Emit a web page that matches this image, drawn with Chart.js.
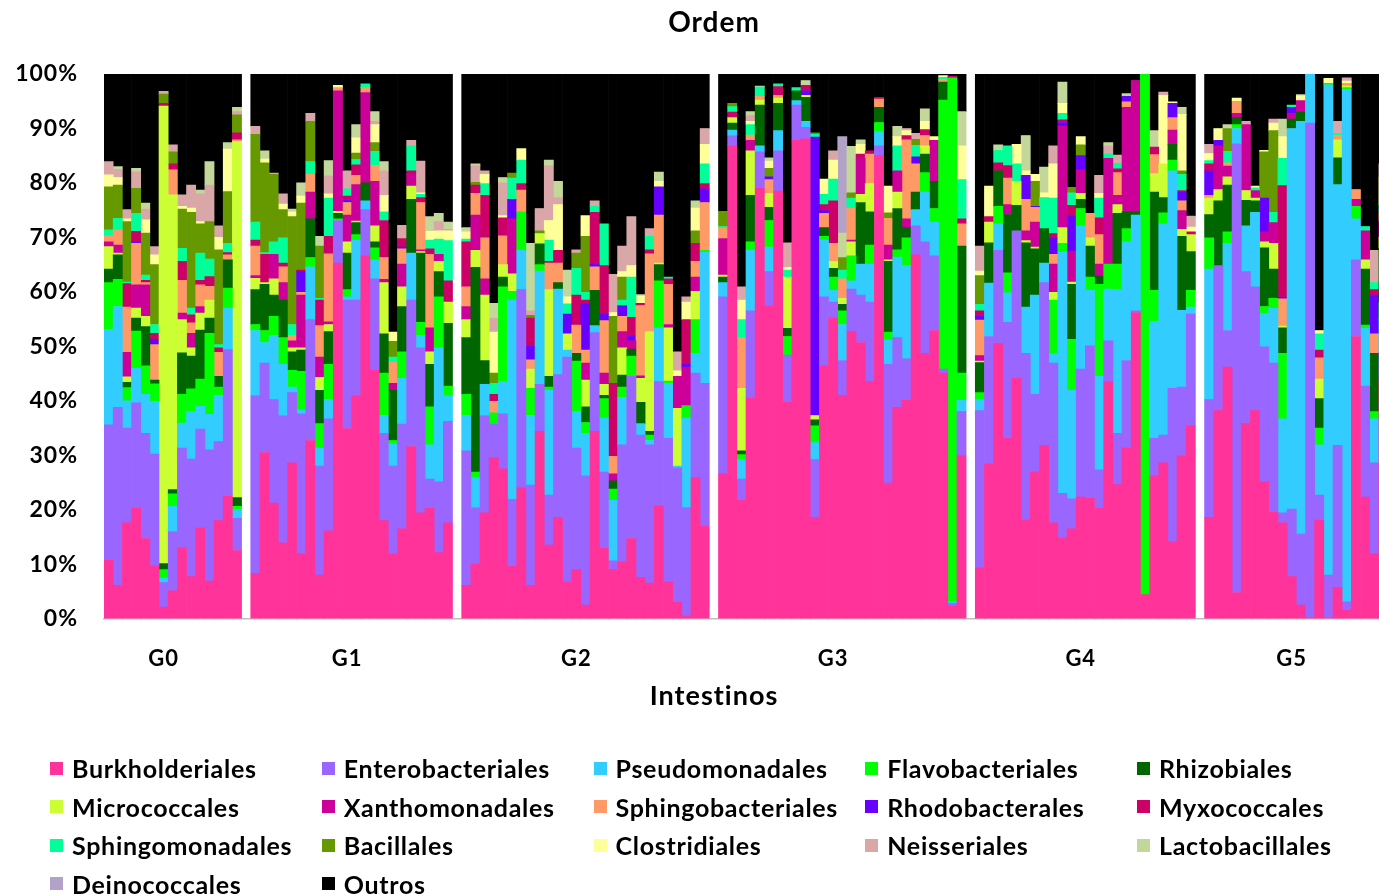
<!DOCTYPE html>
<html>
<head>
<meta charset="utf-8">
<script src="https://cdn.jsdelivr.net/npm/chart.js@4.4.1/dist/chart.umd.min.js"></script>
<style>
  html, body { margin: 0; padding: 0; background: #fff; overflow: hidden; width: 1379px; height: 896px; }
  #wrap { position: absolute; left: 0; top: 0; width: 1428px; height: 716px; }
  #legend { position: absolute; left: 0; top: 0; width: 1379px; height: 896px; pointer-events: none;
            font-family: Lato, 'Open Sans', sans-serif; font-weight: 700; font-size: 25px; color: #000; letter-spacing: 0.7px; }
  .item { position: absolute; display: flex; align-items: center; height: 38px; white-space: nowrap; }
  .sw { width: 13px; height: 13px; margin-right: 9px; flex: none; }
</style>
</head>
<body>
<div id="wrap"><canvas id="chart" width="1428" height="716"></canvas></div>
<div id="legend"></div>
<script>
// Sample groups along the x axis (one empty slot separates consecutive groups)
const groupNames = ['G0', 'G1', 'G2', 'G3', 'G4', 'G5'];
const groupSizes = [15, 22, 27, 27, 24, 20];

// Y axis ticks (percent of reads)
const yTickValues = [0, 10, 20, 30, 40, 50, 60, 70, 80, 90, 100];

const seriesNames = [
  'Burkholderiales', 'Enterobacteriales', 'Pseudomonadales', 'Flavobacteriales', 'Rhizobiales',
  'Micrococcales', 'Xanthomonadales', 'Sphingobacteriales', 'Rhodobacterales', 'Myxococcales',
  'Sphingomonadales', 'Bacillales', 'Clostridiales', 'Neisseriales', 'Lactobacillales',
  'Deinococcales', 'Outros'
];
const seriesColors = [
  '#FF3399', '#9966FF', '#33CCFF', '#00FF00', '#006600',
  '#CCFF33', '#CC0099', '#FF9966', '#6600FF', '#CC0066',
  '#00FF99', '#669900', '#FFFF99', '#D9A7A7', '#C4D79B',
  '#B3A2C7', '#000000'
];

// Relative abundance (%) per sample, one line per group G0..G5
const burkholderiales = [
  10.7,6.1,17.6,20.4,14.7,9.7,2.1,5.1,13.0,7.7,16.6,6.9,18.0,22.6,12.5,
  8.3,30.5,21.2,13.9,28.6,11.9,32.7,8.0,16.1,65.3,34.9,40.9,66.6,45.6,18.0,11.9,16.5,31.6,19.4,20.4,12.1,17.6,
  6.1,10.0,19.4,29.5,27.5,9.6,24.0,6.1,34.4,13.5,18.6,6.7,9.0,2.5,34.4,12.9,9.0,10.4,14.7,7.6,6.5,20.7,6.7,3.0,0.5,25.9,17.1,
  26.6,86.8,21.7,40.6,79.0,57.5,78.5,39.7,87.8,88.1,18.6,46.4,55.2,41.0,52.7,50.7,43.5,85.0,24.9,38.8,40.1,66.8,48.7,52.9,45.1,2.3,29.9,
  9.3,28.4,50.5,33.1,44.1,18.1,26.9,31.8,17.6,14.8,16.5,22.3,22.1,20.4,43.5,24.6,31.3,56.2,4.4,26.2,28.6,14.1,29.9,35.4,
  18.6,38.2,46.2,4.8,35.8,38.2,25.1,19.5,17.6,7.7,2.5,0.2,18.2,0.2,5.7,1.5,51.8,22.3,11.9,44.0
];
const enterobacteriales = [
  24.9,32.7,17.4,19.2,19.3,20.5,4.5,10.9,18.3,21.6,18.2,24.1,14.5,26.8,5.9,
  32.6,16.4,19.0,23.4,12.9,25.7,22.2,20.0,20.6,7.8,23.6,17.6,8.5,16.8,16.0,16.1,19.2,26.9,30.3,5.2,13.0,18.6,
  24.7,10.4,17.9,6.2,10.1,12.3,36.4,18.4,8.6,9.2,26.2,41.3,22.3,23.7,18.1,14.0,1.6,21.5,29.8,26.1,25.4,22.8,26.4,24.7,19.9,19.2,26.1,
  32.5,1.9,3.9,15.9,6.7,6.2,7.4,8.7,6.5,2.1,10.6,12.7,2.9,6.4,7.8,8.7,14.6,1.8,21.8,12.8,7.6,5.3,20.5,13.7,0.7,0.5,8.1,
  28.9,23.4,17.1,21.3,27.1,30.6,14.3,29.9,29.3,8.2,5.5,23.5,28.0,6.9,7.5,9.4,16.1,0.3,0,6.9,5.1,28.2,12.6,20.5,
  21.6,26.6,6.7,82.4,27.9,22.7,24.8,27.4,1.8,12.4,13.0,90.8,4.5,7.8,26.1,1.6,14.1,20.4,16.7,5.0
];
const pseudomonadales = [
  17.5,18.5,5.0,6.4,7.2,9.7,0.9,4.6,4.6,8.7,4.2,6.5,8.5,7.6,1.6,
  12.0,3.8,11.8,9.4,1.0,0.7,9.7,3.3,3.5,0,0.6,11.0,1.6,3.5,3.3,4.1,8.4,8.6,2.3,6.3,24.6,4.7,
  6.5,5.5,5.7,0,5.9,36.6,7.2,12.8,20.8,19.2,15.7,1.3,6.7,7.8,1.3,9.9,11.1,8.7,0,2.0,0.8,9.9,10.1,0.3,16.4,3.6,24.1,
  2.6,1.0,3.6,11.1,1.1,4.5,3.7,0,0.8,1.1,3.1,10.4,2.2,6.6,1.5,5.7,7.0,2.6,4.5,14.8,17.1,3.0,9.1,6.2,0,0.3,2.1,
  2.0,9.8,4.9,5.4,0,8.5,18.2,3.6,1.7,44.3,19.9,26.3,10.2,17.2,9.5,26.4,21.8,17.6,0,21.5,38.8,39.9,14.1,1.3,
  24.0,0,16.0,2.8,8.4,13.7,6.1,10.1,17.3,69.9,75.8,9.0,9.2,90.0,47.9,94.1,7.5,10.6,8.1,6.0
];
const flavobacteriales = [
  8.6,5.0,2.4,6.8,5.2,3.2,1.5,2.3,5.3,4.2,5.0,14.9,1.5,3.7,0.6,
  1.1,2.2,3.5,4.9,3.1,7.1,1.7,4.5,6.5,0.3,1.3,1.0,0,2.2,7.8,0.6,4.9,0,2.4,7.0,9.4,1.8,
  3.9,1.0,0,2.1,17.4,1.6,7.1,5.0,1.2,0.6,0,0,9.3,2.0,0,3.6,2.1,1.9,3.7,0.1,1.0,8.6,0.4,0,2.3,6.2,0.3,
  0,0,0.9,1.6,0,4.9,0,3.4,0,0,3.1,0.7,2.4,2.5,4.6,0,3.5,1.7,1.4,1.3,5.1,0,3.6,2.5,49.4,96.2,5.0,
  1.3,0,3.2,3.7,0,0,0,0,9.9,1.6,9.4,3.2,2.4,16.9,4.6,4.7,2.4,0,95.6,5.7,2.0,2.0,0,3.1,
  5.7,0,2.1,0.7,0,0,1.3,1.8,12.0,0,0,0,3.1,0.3,0,0.3,2.3,0.6,1.3,3.0
];
const rhizobiales = [
  2.5,4.5,1.0,2.4,7.2,0.7,1.1,0.8,7.6,6.0,9.0,2.8,2.0,5.2,1.6,
  6.4,8.5,3.9,6.9,3.4,3.9,7.1,6.1,6.0,1.0,6.7,2.2,3.3,1.1,7.2,9.2,8.3,9.9,12.7,7.8,4.6,11.5,
  10.4,37.6,4.4,0,1.8,0,0,0,3.8,2.0,1.2,0,1.4,2.9,6.5,0.6,1.5,2.2,1.3,3.9,0.7,3.0,0,0,0,0,0,
  1.0,1.3,0.7,8.5,7.5,2.4,5.0,1.5,1.8,4.4,1.1,1.6,1.6,1.2,0,11.3,6.1,2.8,13.0,7.6,1.9,3.2,3.4,5.0,3.3,0,23.3,
  5.5,7.4,6.5,10.7,4.7,11.8,8.5,6.3,0,0,10.1,1.7,5.7,1.6,0,9.3,3.1,0.6,0,18.0,2.8,2.9,13.6,7.1,
  4.3,11.9,8.6,1.3,4.7,2.1,10.8,5.4,4.7,1.7,1.7,0,5.4,0,4.9,0,0,10.3,10.7,10.0
];
const micrococcales = [
  4.1,0.3,1.0,1.8,1.9,0,84.0,54.1,6.1,1.5,3.1,3.3,0,0,65.4,
  2.1,0.3,3.0,0,0.7,0.4,0,2.4,1.3,0.4,2.1,0.3,0,2.9,9.4,0,3.6,2.4,0.3,2.3,1.9,3.9,
  3.3,3.1,12.0,0,2.3,3.2,0,3.5,1.9,15.9,0,3.0,0,4.9,0,2.0,0,5.0,0,4.4,18.3,0.3,9.8,10.6,0,5.2,0,
  0.4,1.0,11.5,8.2,0.9,2.6,1.0,9.4,0,0.4,0.8,0,1.3,1.1,2.6,1.5,5.2,0,0.3,3.0,0,0,1.5,0,0,0,0,
  0.3,3.8,0,0,4.4,0.4,0.3,0,1.4,2.9,0.4,1.1,1.5,0,0,1.6,0,0,0,3.4,6.2,0,1.3,3.1,
  3.0,2.1,1.5,0,1.8,0.5,1.1,4.7,0.3,0,0,0,3.6,0,3.3,0.3,0,1.7,0,2.0
];
const xanthomonadales = [
  0.9,1.5,4.5,4.3,5.8,0,0,0,1.2,2.7,1.2,0,0,0,0,
  0.5,0,4.5,3.2,1.3,9.7,4.9,3.7,0.5,22.1,4.9,6.7,16.6,8.2,0.6,1.3,4.2,2.2,0.3,4.4,1.3,0,
  2.4,6.5,3.0,0,0,10.1,0,0,0,0,0,0,0,3.1,0,2.1,1.3,3.0,1.5,0.5,0,0,0.6,5.9,7.1,2.6,0,
  6.7,0,0,1.9,0,0,0,0,0,0,0,0,0,0,0.3,6.6,0,0,2.7,3.9,1.6,0,0,7.5,0,0,0,
  1.0,0,0,1.8,0,1.8,4.6,0,5.2,18.6,5.7,4.3,0,2.1,19.4,1.7,19.2,24.1,0,0,0,2.6,3.4,0,
  0,8.0,2.0,0.8,12.1,1.4,1.8,3.8,0,1.1,2.1,0,0,0,0,0,1.3,5.3,0,3.0
];
const sphingobacteriales = [
  1.1,2.8,8.3,7.6,0.4,6.5,0,4.6,6.0,1.9,4.0,2.5,4.4,0.9,0.3,
  5.4,0,0,2.9,1.0,0.5,3.3,5.8,12.5,0.6,2.3,1.7,0.9,2.9,4.0,3.9,2.8,0,8.7,13.5,0,0,
  3.6,4.0,7.5,2.1,5.3,0,4.0,1.7,0,4.9,3.6,0,5.2,2.4,4.3,9.6,3.2,2.8,0,12.9,14.3,8.8,7.4,0,0,2.9,8.8,
  1.9,0,9.3,1.0,0.7,2.5,0.5,0,0,0,0,2.6,3.3,3.6,5.9,0,5.4,1.5,4.9,0,14.5,5.2,1.9,0,0.5,0,4.1,
  6.5,0,0,4.9,0,5.8,2.7,0,1.8,0,0,0,4.5,5.4,0,4.2,1.0,0,0,3.5,0,2.3,1.8,0,
  0.5,0,0.6,2.2,0,0,0,0,5.0,0,0,0,3.9,0,0.8,0.5,1.8,0,3.6,2.0
];
const rhodobacterales = [
  0,0,0,0.3,0,1.0,0,0,0,0,0,0,0,0,0,
  0,0,0,0,0,3.8,0,0,0,0,0.4,0,0,0,0,0,0.3,0,0,0,0,0,
  0,0,0,0,0,3.6,0,2.5,0,0,0,3.6,0,8.5,0.5,1.2,0,2.0,1.0,0,0,5.2,0,0,0.5,0,2.5,
  0,0,0,0,0,0.5,0,0,0,0.8,51.1,0.5,0,0,0,0,0,0,0,0,0,1.3,0,0,0,0,0,
  0.7,0,0,0,0,4.4,0.2,0,3.0,0.7,6.4,2.6,0,0,0,0,1.0,0,0,0,0,2.6,1.6,0,
  4.5,1.0,0,0,0,0,6.2,0,0.3,1.1,0,0,0,0,0,0,0,0,7.1,0
];
const myxococcales = [
  0,0,4.3,1.9,0.4,1.1,0.5,1.1,3.5,1.5,0.8,1.8,0.8,0.4,1.3,
  1.1,5.2,0,0.7,0,0.3,0,4.7,3.2,0,0.8,1.9,0,0,6.8,0,1.6,0.6,0.9,1.0,0,3.9,
  8.3,1.5,7.8,1.3,3.3,0,1.2,5.2,0,0.3,2.3,0,5.5,0.7,9.5,8.9,13.4,0,3.3,0.4,0.7,0,1.0,0,8.2,3.3,1.0,
  0,1.0,0,0,0,0,1.6,0,0,1.0,0,1.1,7.8,0,0,0.8,0.6,0.3,0,0,0.8,0,1.1,0,0,0.3,0.9,
  1.0,1.0,1.5,2.3,0,0,0,0,0.8,0.5,2.0,0,0,3.1,0,0.7,0,0,0,1.4,0,0,0.3,0.5,
  1.3,0,0,0,0,0,0,0,20.5,0,0,0,1.4,0,0,0,0,0,1.0,0
];
const sphingomonadales = [
  1.1,2.1,0.3,3.3,1.0,1.6,0,0,2.4,1.2,5.0,3.2,0.6,1.7,0,
  3.3,0.3,2.3,4.6,2.0,0,2.3,0.3,7.0,0,1.3,1.0,0.7,2.6,1.6,0.9,0,4.6,0.6,1.6,2.8,7.4,
  0.5,0,2.2,2.0,0,3.9,4.3,0,0,3.9,0,1.9,4.9,1.4,1.1,7.7,0,1.0,7.4,0,2.5,0,0.3,0,0,0,3.6,
  0.3,1.0,3.3,1.9,1.7,0,0.5,1.3,0.6,0,0.5,1.9,4.0,1.6,1.8,0,0,0,0,4.6,0,2.1,0,0,0.4,0,7.2,
  1.2,0,2.3,3.6,3.2,0,0,5.7,6.5,1.2,2.3,0,0,3.6,0.9,1.0,0,0,0,0,0,0,3.0,0,
  0.6,0,2.1,0,0,0.5,0,1.9,5.0,0.4,0,0,3.0,0,0.3,0,0,0.8,1.3,1.0
];
const bacillales = [
  7.9,6.1,11.1,4.6,7.7,11.0,1.7,2.2,7.2,17.6,5.4,6.9,17.4,9.5,3.3,
  16.1,16.5,12.4,5.2,19.8,12.3,7.4,9.6,0,0,0,1.2,0,1.6,0,2.9,0,0,0,0,0,0,
  0,0.5,0,1.9,0,0.9,0,0.5,0.5,0,0,0,2.8,10.3,0,0,12.3,4.2,0,0,0,0,0,0,0,2.3,0,
  2.8,0.6,0,0,0,1.6,0,0,0,0,0.3,0,0,2.3,1.0,0,0,0,1.0,0,0,1.1,0,0,0,0,0,
  5.3,0,0,0,0,0,4.6,0,0,0,1.0,2.0,0,0,0,0,0,0,0,0,0,0,0.6,0,
  0,0,4.2,0,0,0,8.5,15.0,0,0,0,0,0,0,0,0,0,0,0,0
];
const clostridiales = [
  2.2,1.4,0.5,0,2.4,1.8,0,0,0.5,0.8,0.4,0,2.3,7.8,0,
  0,0.7,0,1.0,0.9,1.3,0,0,0.8,0.4,0,2.8,0,3.3,3.0,1.7,0,0,0.3,1.6,1.5,1.8,
  1.3,0,1.7,7.5,0.4,0,2.1,0,0,3.6,8.4,1.3,0,3.8,0,0,0.7,1.0,2.1,1.3,0,1.0,0,1.0,3.2,4.2,3.6,
  0,0,3.6,0.6,0,1.3,0,0.5,0,0,0,2.8,3.5,0,0,1.8,0,0,4.9,1.7,0.9,0,1.5,0.7,0.3,0,6.2,
  0.8,5.6,0,0,3.6,0.8,1.3,0.9,6.3,1.8,0,1.5,0,0.9,0,0,0,0,0,0,12.6,0.3,10.4,0.9,
  1.3,2.2,0,0.6,0,0.3,0.3,1.4,4.0,0,0.9,0,0.6,0.9,0,0.4,0,0,0,5.0
];
const neisseriales = [
  2.4,1.5,1.7,3.1,2.0,1.5,0.5,1.3,2.1,4.2,5.1,6.7,2.1,0,0.6,
  1.5,0,0.2,1.9,0,0,1.5,0,3.3,0,3.3,0,0,0.6,4.5,0,2.4,1.0,5.8,0,1.7,0.3,
  0,3.1,0.6,2.6,6.0,0,0,0.8,4.1,10.1,1.3,0,0.6,0,1.0,0,7.0,4.7,9.0,0,1.4,0,0,3.5,1.0,0,2.9,
  0,0,2.4,1.1,0,0,0,4.5,0,0,0,0,1.7,0,0,0,0,0,0,0,0.4,1.1,0,0,0,0,0,
  4.6,0,0,0,0,0,0,0,3.3,0,0,0,0,3.3,1.4,1.5,0,0,0,0,0.6,0,0,2.0,
  1.7,0,0,0,0.6,0,0,0.7,0,0,0,0,0,0,2.3,0.6,0,0,5.9,2.5
];
const lactobacillales = [
  0,0.5,0,0.6,1.1,0,0,0,0,0,0.7,4.3,0,1.2,0.8,
  0,1.5,0,0,0.5,2.4,0,1.8,2.8,0,0,2.4,0,1.8,1.7,0,0,0,0,2.7,1.5,1.3,
  0.8,0.3,0,2.7,1.0,0,0,12.4,0,1.0,3.0,4.9,0,0,0,0,0,0,0,0.3,0,1.7,0,0,0,1.3,0,
  0,0,0,0.7,0.2,0.6,0,0,0,0.9,0,0,0,4.5,8.5,0.8,0,0,0,1.9,0,0,2.3,0,0,0,6.3,
  0,0,1.0,0,0,6.5,0,4.7,0,3.9,0,0,0,0,0.6,0,0.5,0,0,3.0,0,0,1.3,0,
  0,0,0.7,0,0,0,0,0,3.2,0,0.2,0,0,0,0,0,0,0,0,0
];
const deinococcales = [
  0,0,0,0,0,0,0,0,0,0,0,0,0,0,0,
  0,0,0,0,0,0,0,0,0,0,0,0,0,0,0,0,0,0,0,0,0,0,
  0,0,0,0,0,0,0,0,0,0,0,0,0,0,0,0,0,0,0,0,0,0,0,0,0,0,0,
  0,0,0,0,0,0,0,0,0,0,0,0,0,17.7,0,0,0,0,0,0,0,0,0,0,0,0,0,
  0,0,0,0,0,0,0,0,0,0,0,0,0,0,0,0,0,0,0,0,0,0,0,0,
  0,0,0,0,0,0,0,0,0,0,0,0,0,0,0,0,0,0,0,0
];
const outros = [
  16.1,17.0,24.9,17.3,23.7,31.7,3.2,13.0,22.2,20.4,21.3,16.1,27.9,12.6,6.1,
  9.6,14.1,18.2,22.0,24.8,20.0,7.2,29.8,15.9,2.1,17.8,9.3,1.8,6.9,16.1,47.4,27.8,12.2,16.0,26.2,25.6,27.2,
  28.2,16.5,17.8,42.1,19.0,18.2,13.7,31.1,24.7,15.8,19.7,36.0,32.3,26.0,23.3,27.5,36.8,31.6,26.2,40.5,28.4,18.0,37.3,51.0,40.9,23.3,10.0,
  25.2,5.4,39.1,6.9,2.2,15.4,1.8,31.0,2.5,1.2,10.8,19.3,14.1,11.5,13.3,12.1,14.1,4.3,20.6,9.6,10.0,10.9,6.4,11.5,0.3,0.4,6.9,
  31.6,20.6,13.0,13.2,12.9,11.3,18.4,17.1,13.2,1.5,20.8,11.5,25.6,18.6,12.6,14.9,3.6,1.2,0,10.4,3.3,5.1,6.1,26.1,
  12.9,10.0,9.3,4.4,8.7,20.6,14.0,8.3,8.3,5.7,3.8,0,47.1,0.8,8.7,0.7,21.2,28.0,32.4,16.5
];

const seriesValues = [
  burkholderiales, enterobacteriales, pseudomonadales, flavobacteriales, rhizobiales,
  micrococcales, xanthomonadales, sphingobacteriales, rhodobacterales, myxococcales,
  sphingomonadales, bacillales, clostridiales, neisseriales, lactobacillales,
  deinococcales, outros
];

const FONT = "Lato, 'Open Sans', sans-serif";

// Category labels: group name under its middle sample, blank elsewhere,
// plus one empty category between consecutive groups.
const labels = [];
groupNames.forEach((name, gi) => {
  const n = groupSizes[gi];
  const mid = Math.ceil((n - 1) / 2) - 1;
  for (let i = 0; i < n; i++) labels.push(i === mid ? name : '');
  if (gi < groupNames.length - 1) labels.push('');
});

// Lay a flat series out over the categories, leaving the separators empty
function spread(values) {
  const out = [];
  let k = 0;
  groupSizes.forEach((n, gi) => {
    for (let i = 0; i < n; i++) {
      const v = values[k++];
      out.push(v ? v : null);
    }
    if (gi < groupSizes.length - 1) out.push(null);
  });
  return out;
}

const datasets = seriesNames.map((name, i) => ({
  label: name,
  data: spread(seriesValues[i]),
  backgroundColor: seriesColors[i],
  borderWidth: 0,
  barPercentage: 1,
  categoryPercentage: 1
}));

const textSpacing = {
  id: 'textSpacing',
  beforeUpdate(chart) { chart.ctx.letterSpacing = '1px'; },
  beforeDraw(chart) { chart.ctx.letterSpacing = '1px'; }
};

new Chart(document.getElementById('chart'), {
  type: 'bar',
  data: { labels, datasets },
  options: {
    responsive: false,
    animation: false,
    layout: { padding: 0 },
    plugins: {
      legend: { display: false },
      tooltip: { enabled: false },
      title: {
        display: true, text: 'Ordem', color: '#000',
        font: { family: FONT, size: 28, weight: 'bold' },
        padding: { top: 6, bottom: 34.4 }
      },
      subtitle: {
        display: true, position: 'bottom', text: 'Intestinos', color: '#000',
        font: { family: FONT, size: 27, weight: 'bold' },
        padding: { top: 3, bottom: 4 }
      }
    },
    scales: {
      x: {
        stacked: true,
        grid: { display: false },
        border: { display: true, color: '#BFBFBF', width: 1.5 },
        ticks: {
          autoSkip: false, maxRotation: 0, minRotation: 0, padding: 19, color: '#000',
          font: { family: FONT, size: 22, weight: 'bold' }
        },
        afterFit(scale) { scale.height = 58; }
      },
      y: {
        stacked: true, min: 0, max: 100,
        grid: { display: false },
        border: { display: false },
        afterBuildTicks(scale) { scale.ticks = yTickValues.map(v => ({ value: v })); },
        ticks: {
          padding: 18, color: '#000',
          font: { family: FONT, size: 23, weight: 'bold' },
          callback: v => v + '%'
        },
        afterFit(scale) { scale.width = 104; }
      },
      // empty margin strip on the right of the plot
      edge: {
        type: 'linear', position: 'right', display: true,
        grid: { display: false },
        border: { display: false },
        ticks: { display: false },
        afterFit(scale) { scale.width = 40; }
      }
    }
  },
  plugins: [textSpacing]
});

// Legend in five columns below the chart
const legend = document.getElementById('legend');
seriesNames.forEach((name, i) => {
  const col = i % 5, row = Math.floor(i / 5);
  const item = document.createElement('div');
  item.className = 'item';
  item.style.left = (50 + col * 271.75) + 'px';
  item.style.top = (749 + row * 38.5) + 'px';
  const sw = document.createElement('span');
  sw.className = 'sw';
  sw.style.background = seriesColors[i];
  const tx = document.createElement('span');
  tx.textContent = name;
  item.appendChild(sw);
  item.appendChild(tx);
  legend.appendChild(item);
});
</script>
</body>
</html>
